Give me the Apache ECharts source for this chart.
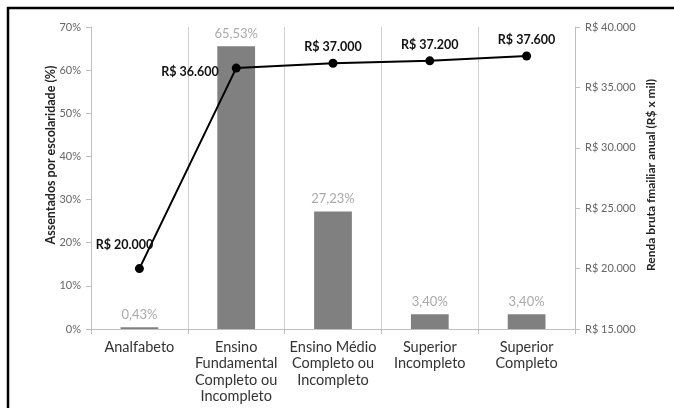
<!DOCTYPE html>
<html><head><meta charset="utf-8">
<script src="https://cdn.jsdelivr.net/npm/echarts@6/dist/echarts.min.js"></script>
<style>html,body{margin:0;padding:0;background:#fff}#c{width:674px;height:408px}</style>
</head><body><div id="c"></div>
<script>
var categories = ['Analfabeto', 'Ensino\nFundamental\nCompleto ou\nIncompleto', 'Ensino Médio\nCompleto ou\nIncompleto', 'Superior\nIncompleto', 'Superior\nCompleto'];
var assentados = [0.43, 65.53, 27.23, 3.40, 3.40];
var renda = [20000, 36600, 37000, 37200, 37600];
var leftTicks = {min: 0, max: 70, interval: 10};
var rightTicks = {min: 15000, max: 40000, interval: 5000};

function fmtMoney(v){ return 'R$ ' + String(v).replace(/\B(?=(\d{3})+(?!\d))/g, '.'); }
var F = 'Lato, "Open Sans", sans-serif';
var chart = echarts.init(document.getElementById('c'), null, {renderer:'canvas'});
var lineLabelCfg = [
  {position:'top', distance:5, offset:[-15,-8]},
  {position:'left', distance:13, offset:[0,4]},
  {position:'top', distance:5, offset:[0,0]},
  {position:'top', distance:5, offset:[0,0]},
  {position:'top', distance:5, offset:[0,0]}
];
chart.setOption({
  animation:false,
  textStyle:{fontFamily:F},
  graphic:[{type:'rect', shape:{x:8,y:8,width:720,height:500}, style:{fill:'none', stroke:'#000', lineWidth:2.5}, silent:true}],
  grid:{left:91, right:99, top:27, bottom:79},
  xAxis:{type:'category', data:categories, boundaryGap:true,
    axisLine:{lineStyle:{color:'#bfbfbf'}},
    axisTick:{show:true, length:5, lineStyle:{color:'#bfbfbf'}},
    splitLine:{show:true, lineStyle:{color:'#d0d0d0', width:1}},
    axisLabel:{color:'#333', fontSize:14.5, lineHeight:16.5, margin:10, interval:0, fontFamily:F}},
  yAxis:[{type:'value', min:leftTicks.min, max:leftTicks.max, interval:leftTicks.interval,
      name:'Assentados por escolaridade (%)', nameLocation:'middle', nameGap:34, nameRotate:90, nameMoveOverlap:false,
      nameTextStyle:{fontWeight:'bold', fontSize:12.5, color:'#222', fontFamily:F, padding:[0,0,0,46]},
      axisLine:{show:true, lineStyle:{color:'#bfbfbf'}}, axisTick:{show:true, length:5, lineStyle:{color:'#bfbfbf'}},
      splitLine:{show:false},
      axisLabel:{formatter:'{value}%', color:'#666', fontSize:11, margin:10}},
    {type:'value', min:rightTicks.min, max:rightTicks.max, interval:rightTicks.interval, position:'right',
      name:'Renda bruta fmailiar anual (R$ x mil)', nameLocation:'middle', nameGap:70, nameRotate:90, nameMoveOverlap:false,
      nameTextStyle:{fontWeight:'bold', fontSize:12, color:'#222', fontFamily:F, padding:[0,0,0,6]},
      axisLine:{show:true, lineStyle:{color:'#bfbfbf'}}, axisTick:{show:true, length:5, lineStyle:{color:'#bfbfbf'}},
      splitLine:{show:false},
      axisLabel:{formatter:fmtMoney, color:'#666', fontSize:11, margin:10}}],
  series:[
    {type:'bar', yAxisIndex:0, data:assentados, barWidth:'39%', itemStyle:{color:'#808080'},
     label:{show:true, position:'top', distance:6, color:'#aaa', fontSize:13, fontFamily:F,
       formatter:function(p){return p.value.toFixed(2).replace('.', ',') + '%';}}},
    {type:'line', yAxisIndex:1, data:renda.map(function(v,i){return {value:v, label:lineLabelCfg[i]};}),
     symbol:'circle', symbolSize:9, lineStyle:{color:'#000', width:2}, itemStyle:{color:'#000'},
     label:{show:true, fontWeight:'bold', fontSize:12.5, color:'#111', fontFamily:F,
       formatter:function(p){return fmtMoney(p.value);}}}
  ]
});
</script></body></html>
